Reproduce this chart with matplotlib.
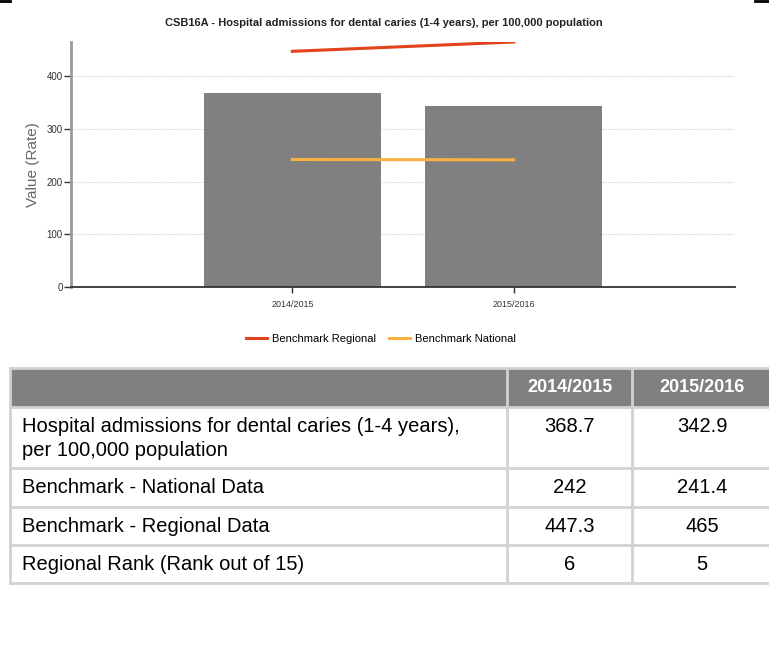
import matplotlib.pyplot as plt
from matplotlib.patches import Rectangle
from matplotlib.lines import Line2D

# data
years = ['2014/2015', '2015/2016']
rate = [368.7, 342.9]
national = [242, 241.4]
regional = [447.3, 465]
rank = [6, 5]

row_labels = ['Hospital admissions for dental caries (1-4 years),\nper 100,000 population',
              'Benchmark - National Data',
              'Benchmark - Regional Data',
              'Regional Rank (Rank out of 15)']
row_values = [rate, national, regional, rank]

arial = ['Liberation Sans', 'DejaVu Sans']

fig = plt.figure(figsize=(7.69, 6.51), dpi=100)

# chart
ax = fig.add_axes([71 / 769, 1 - 287 / 651, 664 / 769, 245 / 651])
x = list(range(len(years)))
ax.bar(x, rate, width=0.8, color='#808080', zorder=2)
ax.plot(x, regional, color='#e2431b', lw=2.2, label='Benchmark Regional', zorder=3)
ax.plot(x, national, color='#fbb040', lw=2.2, label='Benchmark National', zorder=3)

ax.set_xlim(-1, 2)
ax.set_ylim(0, 465)
ax.set_yticks([0, 100, 200, 300, 400])
ax.set_xticks(x)
ax.set_xticklabels(years)
ax.grid(axis='y', color='#dddddd', lw=0.8, ls=(0, (2, 1)), zorder=0)
ax.tick_params(axis='y', length=5, width=1, color='#333333', labelsize=7,
               labelcolor='#333333', pad=1)
ax.tick_params(axis='x', length=4, width=1, color='#333333', labelsize=6.5,
               labelcolor='#333333', pad=5)
for lab in ax.get_xticklabels() + ax.get_yticklabels():
    lab.set_family(arial)
for s in ['top', 'right']:
    ax.spines[s].set_visible(False)
ax.spines['left'].set_color('#999999')
ax.spines['left'].set_linewidth(2)
ax.spines['bottom'].set_color('#333333')
ax.spines['bottom'].set_linewidth(1.3)
ax.set_ylabel('Value (Rate)', fontsize=11, color='#666666', family=arial, labelpad=5)

fig.text(0.5 * (170 + 598) / 769, 1 - 23 / 651,
         'CSB16A - Hospital admissions for dental caries (1-4 years), per 100,000 population',
         ha='center', va='center', fontsize=8, fontweight='bold', family=arial, color='#222222')

fig.legend(loc='center', bbox_to_anchor=(381 / 769, 1 - 339 / 651), ncol=2, frameon=False,
           prop={'family': arial, 'size': 8}, handlelength=1.9, columnspacing=1.2,
           handletextpad=0.4)

# corner marks
fig.add_artist(Line2D([0, 10 / 769], [0.998, 0.998], color='black', lw=2))
fig.add_artist(Line2D([755 / 769, 1], [0.998, 0.998], color='black', lw=2))

# table
tax = fig.add_axes([0, 0, 1, 1])
tax.set_xlim(0, 769)
tax.set_ylim(651, 0)
tax.axis('off')

cols = [10, 507, 632, 772]
rows = [368, 407, 468, 507, 545, 583]
border = '#d2d2d2'
fs = 14.5

tax.add_patch(Rectangle((cols[0], rows[0]), cols[-1] - cols[0], rows[1] - rows[0],
                        facecolor='#808080', edgecolor='none'))
for i, yr in enumerate(years):
    tax.text((cols[i + 1] + cols[i + 2]) / 2, (rows[0] + rows[1]) / 2, yr,
             ha='center', va='center', color='white', fontsize=13, fontweight='bold',
             family=arial)

for r, (lab, vals) in enumerate(zip(row_labels, row_values)):
    top, bot = rows[r + 1], rows[r + 2]
    if '\n' in lab:
        tax.text(22, top + 10, lab, ha='left', va='top', fontsize=fs, family=arial,
                 color='#000000', linespacing=1.3)
        ty = top + 20
    else:
        ty = (top + bot) / 2
        tax.text(22, ty, lab, ha='left', va='center', fontsize=fs,
                 family=arial, color='#000000')
    for i, v in enumerate(vals):
        tax.text((cols[i + 1] + cols[i + 2]) / 2, ty, str(v), ha='center', va='center',
                 fontsize=fs, family=arial, color='#000000')

for yv in rows:
    tax.plot([cols[0], cols[-1]], [yv, yv], color=border, lw=2)
for xv in cols:
    tax.plot([xv, xv], [rows[0], rows[-1]], color=border, lw=2)

fig.savefig('out.png', dpi=100)
